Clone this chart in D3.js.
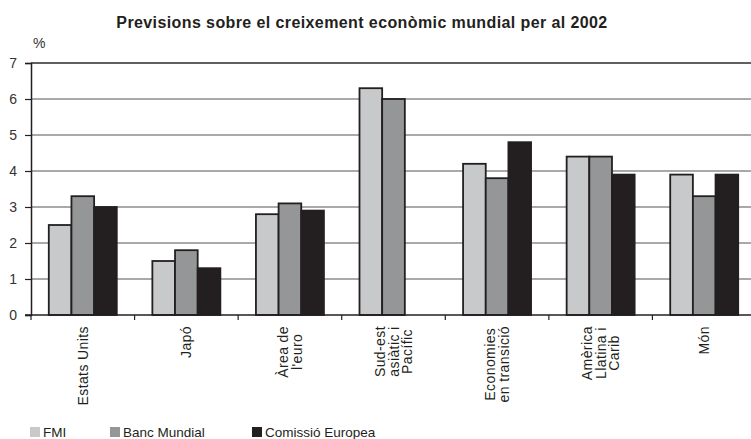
<!DOCTYPE html>
<html>
<head>
<meta charset="utf-8">
<script src="https://cdn.jsdelivr.net/npm/d3@7"></script>
<style>
  body { margin: 0; background: #fff; }
  svg { display: block; overflow: hidden; }
  text { font-family: "Liberation Sans", Arial, sans-serif; fill: #231f20; }
</style>
</head>
<body>
<div id="chart"></div>
<script>
// data
const categories = [
  ['Estats Units'],
  ['Japó'],
  ['Àrea de', "l'euro"],
  ['Sud-est', 'asiàtic i', 'Pacífic'],
  ['Economies', 'en transició'],
  ['Amèrica', 'Llatina i', 'Carib'],
  ['Món']
]
const seriesNames = ['FMI', 'Banc Mundial', 'Comissió Europea']
const fmi = [2.5, 1.5, 2.8, 6.3, 4.2, 4.4, 3.9]
const bancMundial = [3.3, 1.8, 3.1, 6.0, 3.8, 4.4, 3.3]
const comissio = [3.0, 1.3, 2.9, null, 4.8, 3.9, 3.9]
const yTicks = [0, 1, 2, 3, 4, 5, 6, 7]
const colors = ['#c8c9cb', '#959698', '#231f20']

const W = 751, H = 439
const MARGIN = { TOP: 63, LEFT: 31 }
const WIDTH = 725
const HEIGHT = 252

const svg = d3.select('#chart').append('svg')
  .attr('width', W)
  .attr('height', H)

const g = svg.append('g')
  .attr('transform', `translate(${MARGIN.LEFT}, ${MARGIN.TOP})`)

const catIdx = categories.map((c, i) => i)
const x0 = d3.scaleBand().domain(catIdx).range([0, WIDTH]).padding(0)
const x1 = d3.scaleBand().domain(seriesNames).range([0, x0.bandwidth()])
  .paddingInner(0).paddingOuter(0.785)
const y = d3.scaleLinear().domain([0, 7]).range([HEIGHT, 0])

// gridlines
g.selectAll('.grid').data(yTicks.filter(t => t > 0)).join('line')
  .attr('x1', 0).attr('x2', WIDTH)
  .attr('y1', d => y(d)).attr('y2', d => y(d))
  .attr('stroke', d => d === 7 ? '#2b2b2b' : '#8c8c8c')
  .attr('stroke-width', 1.5)

// y axis
const yAxis = g.append('g')
  .call(d3.axisLeft(y).tickValues(yTicks).tickSize(6).tickPadding(8).tickFormat(d3.format('d')))
yAxis.select('.domain').attr('stroke', '#231f20').attr('stroke-width', 1.5)
yAxis.selectAll('.tick line').attr('stroke', '#231f20').attr('stroke-width', 1.2)
yAxis.selectAll('.tick text')
  .style('font-size', '14px').style('fill', '#333')
  .style('font-family', '"Liberation Sans", Arial, sans-serif')

svg.append('text')
  .attr('x', 33).attr('y', 48)
  .style('font-size', '14px').style('fill', '#333')
  .text('%')

// bars
const rows = []
categories.forEach((c, i) => {
  [fmi, bancMundial, comissio].forEach((arr, s) => {
    if (arr[i] != null) rows.push({ cat: i, s: s, v: arr[i] })
  })
})

g.selectAll('rect.bar').data(rows).join('rect')
  .attr('class', 'bar')
  .attr('x', d => x0(d.cat) + x1(seriesNames[d.s]))
  .attr('width', x1.bandwidth())
  .attr('y', d => y(d.v))
  .attr('height', d => y(0) - y(d.v))
  .attr('fill', d => colors[d.s])
  .attr('stroke', '#231f20')
  .attr('stroke-width', 1.8)

// x axis
const xAxis = g.append('g').attr('transform', `translate(0, ${HEIGHT})`)
xAxis.append('line')
  .attr('x1', -6).attr('x2', WIDTH)
  .attr('stroke', '#231f20').attr('stroke-width', 1.5)
xAxis.selectAll('.xtick').data(d3.range(categories.length + 1)).join('line')
  .attr('x1', d => d * x0.step()).attr('x2', d => d * x0.step())
  .attr('y1', 0).attr('y2', 5)
  .attr('stroke', '#231f20').attr('stroke-width', 1.2)

// rotated category labels
const lineH = 13.5
const labelTop = 11
categories.forEach((lines, i) => {
  const cx = x0(i) + x0.bandwidth() / 2
  const lab = xAxis.append('g')
    .attr('transform', `translate(${cx}, ${labelTop}) rotate(-90)`)
  const texts = lab.selectAll('text').data(lines).join('text')
    .attr('text-anchor', 'middle')
    .style('font-size', '14px')
    .style('letter-spacing', '0.4px')
    .attr('y', (d, k) => (k - (lines.length - 1) / 2) * lineH + 5)
    .text(d => d)
  const maxLen = d3.max(texts.nodes(), n => n.getComputedTextLength())
  texts.attr('x', -maxLen / 2)
})

// title
svg.append('text')
  .attr('x', 362).attr('y', 28)
  .attr('text-anchor', 'middle')
  .style('font-size', '16px')
  .style('font-weight', 'bold')
  .style('letter-spacing', '0.4px')
  .text('Previsions sobre el creixement econòmic mundial per al 2002')

// legend
const legendX = [30, 110, 252]
const legend = svg.append('g')
seriesNames.forEach((name, i) => {
  legend.append('rect')
    .attr('x', legendX[i]).attr('y', 427)
    .attr('width', 10).attr('height', 10)
    .attr('fill', colors[i])
  legend.append('text')
    .attr('x', legendX[i] + 13).attr('y', 437)
    .style('font-family', '"Liberation Sans Narrow", "Arial Narrow", sans-serif')
    .style('font-size', '13.5px')
    .text(name)
})
</script>
</body>
</html>
